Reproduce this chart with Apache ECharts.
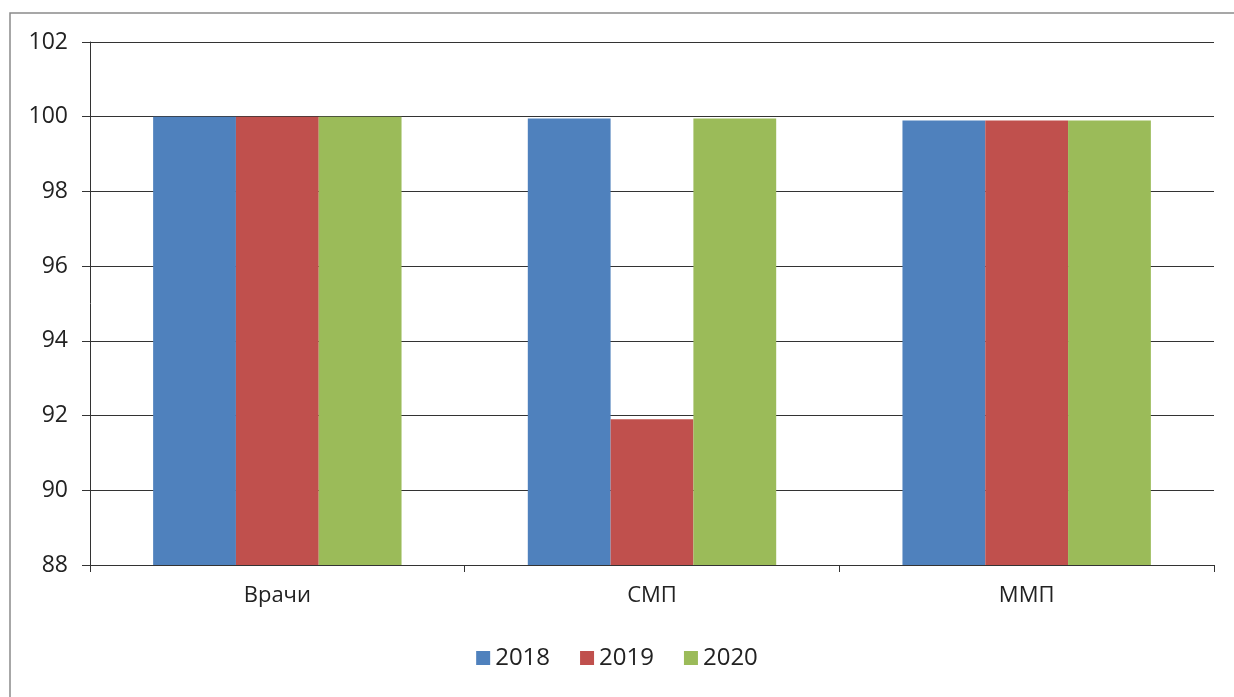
<!DOCTYPE html>
<html><head><meta charset="utf-8">
<script src="https://cdn.jsdelivr.net/npm/echarts@6/dist/echarts.min.js"></script>
<style>html,body{margin:0;padding:0;background:#fff}#c{width:1234px;height:697px}</style>
</head><body><div id="c"></div>
<script>
const categories = ['Врачи', 'СМП', 'ММП'];
const seriesNames = ['2018', '2019', '2020'];
const values2018 = [100, 99.95, 99.9];
const values2019 = [100, 91.9, 99.9];
const values2020 = [100, 99.95, 99.9];
const colors = ['#4F81BD', '#C0504D', '#9BBB59'];

const chart = echarts.init(document.getElementById('c'), null, {renderer: 'canvas'});
const font = '"Open Sans", "Liberation Sans", sans-serif';
const data = [values2018, values2019, values2020];
chart.setOption({
  animation: false,
  textStyle: {fontFamily: font},
  graphic: [{type: 'rect', shape: {x: 10, y: 13, width: 1240, height: 700}, style: {fill: 'none', stroke: '#8a8a8a', lineWidth: 1.5}}],
  grid: {left: 90, right: 20, top: 42, bottom: 132},
  legend: {
    bottom: 22, left: 'center', itemWidth: 14, itemHeight: 14, itemGap: 30,
    icon: 'rect', textStyle: {fontSize: 24, color: '#222', fontFamily: font}
  },
  xAxis: {
    type: 'category', data: categories,
    axisLine: {lineStyle: {color: '#333', width: 1}},
    axisTick: {show: true, alignWithLabel: false, length: 7, lineStyle: {color: '#333'}},
    axisLabel: {fontSize: 22, color: '#222', margin: 20}
  },
  yAxis: {
    type: 'value', min: 88, max: 102, interval: 2,
    axisLine: {show: true, lineStyle: {color: '#333'}},
    axisTick: {show: true, length: 8, lineStyle: {color: '#333'}},
    axisLabel: {fontSize: 23, color: '#222', margin: 22},
    splitLine: {lineStyle: {color: '#333', width: 1}}
  },
  series: seriesNames.map((n, i) => ({
    name: n, type: 'bar', data: data[i], barWidth: '22.1%', barGap: '0%', barCategoryGap: '33.7%',
    itemStyle: {color: colors[i]}
  }))
});
</script></body></html>
